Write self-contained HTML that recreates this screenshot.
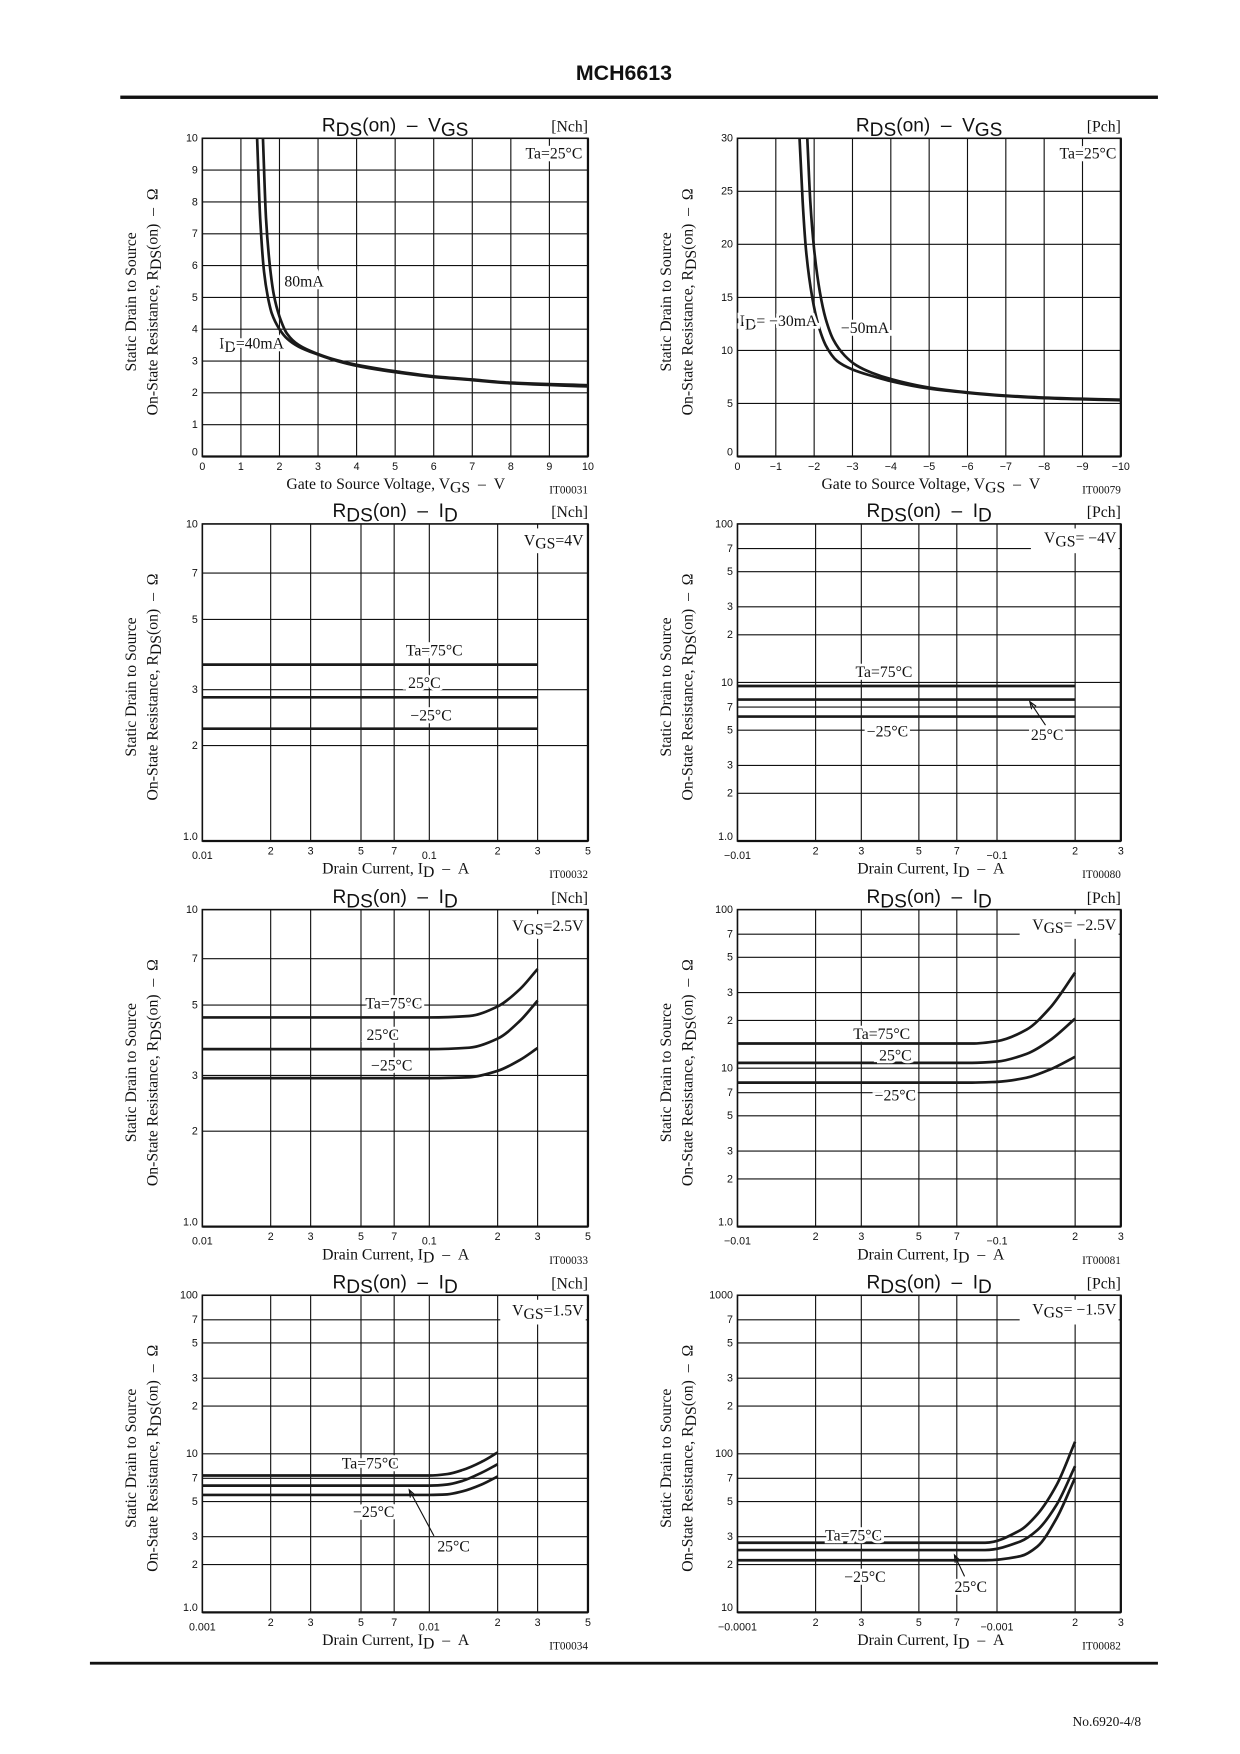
<!DOCTYPE html>
<html><head><meta charset="utf-8"><title>MCH6613 datasheet page</title>
<style>
html,body{margin:0;padding:0;background:#fff;}
svg{display:block;}
.t{font-family:"Liberation Sans",sans-serif;fill:#111;}
.s{font-family:"Liberation Serif",serif;fill:#111;}
</style></head>
<body>
<svg id="page" xmlns="http://www.w3.org/2000/svg" width="1240" height="1754" viewBox="0 0 1103 1560" preserveAspectRatio="none">
<text class="t" x="555" y="71" text-anchor="middle" font-size="19" font-weight="bold">MCH6613</text>
<rect x="107" y="85" width="923" height="3" fill="#111"/>
<rect x="80" y="1478" width="950" height="2.5" fill="#111"/>
<text class="s" x="1015" y="1535" text-anchor="end" font-size="12">No.6920-4/8</text>
<g id="charts"></g>
</svg>
<script>
// ---------- Chart data ----------
const c1_vgs40 = [1.42,1.5,1.6,1.7,1.8,2.0,2.2,2.5,3,3.5,4,5,6,7,8,10];
const c1_r40   = [10,7.5,5.8,5.0,4.5,4.0,3.7,3.45,3.2,3.0,2.85,2.65,2.5,2.4,2.3,2.2];
const c1_vgs80 = [1.57,1.65,1.75,1.85,2.0,2.2,2.5,3,3.5,4,5,6,7,8,10];
const c1_r80   = [10,7.5,6.0,5.1,4.4,3.85,3.5,3.22,3.02,2.88,2.68,2.52,2.42,2.32,2.24];
const c2_vgs30 = [1.62,1.7,1.8,1.95,2.1,2.3,2.6,3,3.5,4,5,6,7,8,10];
const c2_r30   = [30,24,19,15,12.5,10.5,9.0,8.2,7.6,7.1,6.4,6.0,5.7,5.5,5.3];
const c2_vgs50 = [1.82,1.9,2.0,2.15,2.3,2.5,2.8,3.1,3.5,4,5,6,7,8,10];
const c2_r50   = [30,24,19.5,15.5,13,11,9.5,8.6,7.9,7.3,6.5,6.05,5.75,5.55,5.35];
const c3_id = [0.01,0.3];
const c3_r75 = [3.6,3.6];
const c3_r25 = [2.84,2.84];
const c3_rm25 = [2.26,2.26];
const c4_id = [0.01,0.2];
const c4_r75 = [9.5,9.5];
const c4_r25 = [7.8,7.8];
const c4_rm25 = [6.1,6.1];
const c5_id = [0.01,0.1,0.15,0.2,0.25,0.3];
const c5_r75 = [4.57,4.57,4.62,4.95,5.6,6.5];
const c5_r25 = [3.63,3.63,3.67,3.92,4.45,5.16];
const c5_rm25 = [2.94,2.94,2.96,3.1,3.35,3.66];
const c6_id = [0.01,0.08,0.1,0.13,0.16,0.2];
const c6_r75 = [14.3,14.3,14.8,17.5,24,40];
const c6_r25 = [10.8,10.8,11.0,12.3,15,20.5];
const c6_rm25 = [8.1,8.1,8.2,8.7,9.8,11.8];
const c7_id = [0.001,0.01,0.012,0.014,0.017,0.02];
const c7_r75 = [7.3,7.3,7.45,7.9,8.9,10.2];
const c7_r25 = [6.3,6.3,6.4,6.75,7.6,8.6];
const c7_rm25 = [5.5,5.5,5.55,5.8,6.4,7.2];
const c8_id = [0.0001,0.0009,0.00123,0.00143,0.0017,0.002];
const c8_r75 = [27.5,27.5,33,41.5,64,119];
const c8_r25 = [24.7,24.7,28,33,48,83.6];
const c8_rm25 = [21.3,21.3,22.6,26,39.5,70.6];
const linX = [0,1,2,3,4,5,6,7,8,9,10];
const linXLabN = ["0","1","2","3","4","5","6","7","8","9","10"];
const linXLabP = ["0","−1","−2","−3","−4","−5","−6","−7","−8","−9","−10"];
const linY1 = [0,1,2,3,4,5,6,7,8,9,10];
const linY2 = [0,5,10,15,20,25,30];
const logXN = [0.01,0.02,0.03,0.05,0.07,0.1,0.2,0.3,0.5];
const logXNLab = ["0.01","2","3","5","7","0.1","2","3","5"];
const logXP = [0.01,0.02,0.03,0.05,0.07,0.1,0.2,0.3];
const logXPLab = ["−0.01","2","3","5","7","−0.1","2","3"];
const logXN4 = [0.001,0.002,0.003,0.005,0.007,0.01,0.02,0.03,0.05];
const logXN4Lab = ["0.001","2","3","5","7","0.01","2","3","5"];
const logXP4 = [0.0001,0.0002,0.0003,0.0005,0.0007,0.001,0.002,0.003];
const logXP4Lab = ["−0.0001","2","3","5","7","−0.001","2","3"];
const logY1 = [1,2,3,5,7,10];
const logY1Lab = ["1.0","2","3","5","7","10"];
const logY2 = [1,2,3,5,7,10,20,30,50,70,100];
const logY2Lab = ["1.0","2","3","5","7","10","2","3","5","7","100"];
const logY3 = [10,20,30,50,70,100,200,300,500,700,1000];
const logY3Lab = ["10","2","3","5","7","100","2","3","5","7","1000"];

const NS="http://www.w3.org/2000/svg";
const root=document.getElementById('charts');
function mk(tag,attrs,parent){const e=document.createElementNS(NS,tag);for(const k in attrs)e.setAttribute(k,attrs[k]);(parent||root).appendChild(e);return e;}
// monotone cubic (Fritsch–Carlson) path through pixel points
function smooth(P){
  const n=P.length;
  if(n<3)return 'M'+P.map(p=>p[0].toFixed(1)+','+p[1].toFixed(1)).join(' L');
  const dx=[],m=[];
  for(let i=0;i<n-1;i++){dx[i]=P[i+1][0]-P[i][0];m[i]=(P[i+1][1]-P[i][1])/dx[i];}
  const t=[m[0]];
  for(let i=1;i<n-1;i++){
    if(m[i-1]*m[i]<=0)t[i]=0;
    else{const w1=2*dx[i]+dx[i-1],w2=dx[i]+2*dx[i-1];t[i]=(w1+w2)/(w1/m[i-1]+w2/m[i]);}
  }
  t[n-1]=m[n-2];
  let d='M'+P[0][0].toFixed(1)+','+P[0][1].toFixed(1);
  for(let i=0;i<n-1;i++){
    const h=dx[i]/3;
    d+=` C${(P[i][0]+h).toFixed(1)},${(P[i][1]+t[i]*h).toFixed(1)} ${(P[i+1][0]-h).toFixed(1)},${(P[i+1][1]-t[i+1]*h).toFixed(1)} ${P[i+1][0].toFixed(1)},${P[i+1][1].toFixed(1)}`;
  }
  return d;
}
function chart(o){
  const g=mk('g',{});
  
  
  const L=o.L,R=o.R,T=o.T,B=o.B;
  const fx=o.xlog?(v=>L+(Math.log10(v)-Math.log10(o.x0))/(Math.log10(o.x1)-Math.log10(o.x0))*(R-L)):(v=>L+(v-o.x0)/(o.x1-o.x0)*(R-L));
  const fy=o.ylog?(v=>B-(Math.log10(v)-Math.log10(o.y0))/(Math.log10(o.y1)-Math.log10(o.y0))*(B-T)):(v=>B-(v-o.y0)/(o.y1-o.y0)*(B-T));
  const cl='clip-'+o.name;
  const cp=mk('clipPath',{id:cl},g);
  mk('rect',{x:L,y:T,width:R-L,height:B-T},cp);
  o.xt.forEach((v,i)=>{const x=fx(v);
    const gl=mk('line',{x1:x,x2:x,y1:T,y2:B,stroke:'#111','stroke-width':1},g);
    
    
    const low=o.xlog&&(/^[−0]/.test(o.xl[i])&&o.xl[i].length>1);
    const tl=mk('text',{class:'t',x:x,y:B+(low?16:12),'text-anchor':'middle','font-size':9.5},g);
    tl.textContent=o.xl[i];
    
    
  });
  o.yt.forEach((v,i)=>{const y=fy(v);
    const gl=mk('line',{x1:L,x2:R,y1:y,y2:y,stroke:'#111','stroke-width':1},g);
    
    
    const tl=mk('text',{class:'t',x:L-4,y:y+(i===0?-1:3),'text-anchor':'end','font-size':9.5},g);
    tl.textContent=o.yl[i];
    
    
  });
  const fr=mk('rect',{x:L,y:T,width:R-L,height:B-T,fill:'none',stroke:'#111','stroke-width':1.4},g);
  
  
  const ax=mk('line',{x1:L,x2:R,y1:B,y2:B,stroke:'#111','stroke-width':2},g);
  
  
  const ay=mk('line',{x1:R,x2:R,y1:T,y2:B,stroke:'#111','stroke-width':2},g);
  
  
  o.series.forEach(s=>{
    const P=s.x.map((v,i)=>[fx(v),fy(s.y[i])]);
    const p=mk('path',{d:smooth(P),fill:'none',stroke:'#1a1a1a','stroke-width':2.4,'stroke-linejoin':'round','clip-path':`url(#${cl})`},g);
    
    
  });
  const cx=(L+R)/2;
  const tt=mk('text',{class:'t',x:cx,y:T-6,'text-anchor':'middle','font-size':17},g);
  tt.innerHTML=o.title;
  
  
  const ch=mk('text',{class:'s',x:R,y:T-6,'text-anchor':'end','font-size':14},g);
  ch.textContent=o.ch;
  
  
  const xt=mk('text',{class:'s',x:o.xtx,y:B+29,'text-anchor':'middle','font-size':14},g);
  xt.innerHTML=o.xtitle;
  
  
  const code=mk('text',{class:'s',x:R,y:B+33,'text-anchor':'end','font-size':10},g);
  code.textContent=o.code;
  
  
  const cy=(T+B)/2+4;
  const yt=mk('text',{class:'s','font-size':14,'text-anchor':'middle',transform:`translate(${L-59},${cy}) rotate(-90)`},g);
  yt.innerHTML='Static Drain to Source';
  
  
  const yt2=mk('text',{class:'s','font-size':14,'text-anchor':'middle',transform:`translate(${L-40},${cy}) rotate(-90)`},g);
  yt2.innerHTML='On-State Resistance, R<tspan dy="3">DS</tspan><tspan dy="-3">(on)\u00a0\u00a0–\u00a0\u00a0Ω</tspan>';
  
  
  (o.notes||[]).forEach(n=>{
    if(n.box){const bw=n.box;const r=mk('rect',{x:R-bw-2,y:T+4,width:bw,height:22,fill:'#fff'},g);
      
      }
    if(n.arrow){const a=n.arrow;
      const ln=mk('line',{x1:a[0],y1:a[1],x2:a[2],y2:a[3],stroke:'#111','stroke-width':1},g);
      
      
      const ang=Math.atan2(a[3]-a[1],a[2]-a[0]);
      const hx=a[2],hy=a[3],h=7;
      const pts=`${hx-h*Math.cos(ang-0.35)},${hy-h*Math.sin(ang-0.35)} ${hx},${hy} ${hx-h*Math.cos(ang+0.35)},${hy-h*Math.sin(ang+0.35)}`;
      const ah=mk('polyline',{points:pts,fill:'none',stroke:'#111','stroke-width':1},g);
      
      
    }
    const t=mk('text',{class:'s',x:n.x,y:n.y,'font-size':14,'text-anchor':n.anchor||'start',stroke:'#fff','stroke-width':n.halo===0?0:5,'paint-order':'stroke'},g);
    t.innerHTML=n.t;
    
    
  });
}
const TV='R<tspan dy="4">DS</tspan><tspan dy="-4">(on)\u00a0\u00a0–\u00a0\u00a0V</tspan><tspan dy="4">GS</tspan>';
const TI='R<tspan dy="4">DS</tspan><tspan dy="-4">(on)\u00a0\u00a0–\u00a0\u00a0I</tspan><tspan dy="4">D</tspan>';
const XV='Gate to Source Voltage, V<tspan dy="3">GS</tspan><tspan dy="-3">\u00a0\u00a0–\u00a0\u00a0V</tspan>';
const XI='Drain Current, I<tspan dy="3">D</tspan><tspan dy="-3">\u00a0\u00a0–\u00a0\u00a0A</tspan>';
const LX=[180,523], RX=[656,997];
const rows=[[123,406],[466,748],[809,1091],[1152,1434]];
const vgs=s=>'V<tspan dy="3">GS</tspan><tspan dy="-3">'+s+'</tspan>';
function ser(x,a,b,c){return [{name:'curve-ta-75c',x:x,y:a},{name:'curve-ta-25c',x:x,y:b},{name:'curve-ta-minus25c',x:x,y:c}];}

chart({name:'chart-nch-rds-vgs',L:LX[0],R:LX[1],T:rows[0][0],B:rows[0][1],x0:0,x1:10,y0:0,y1:10,
  xt:linX,xl:linXLabN,yt:linY1,yl:linY1.map(String),title:TV,ch:'[Nch]',xtitle:XV,xtx:352,code:'IT00031',
  series:[{name:'curve-id-40ma',x:c1_vgs40,y:c1_r40},{name:'curve-id-80ma',x:c1_vgs80,y:c1_r80}],
  notes:[{t:'Ta=25°C',x:518,y:141,anchor:'end',name:'temp-label'},{t:'80mA',x:253,y:255,name:'label-80ma'},
    {t:'I<tspan dy="3">D</tspan><tspan dy="-3">=40mA</tspan>',x:195,y:310,name:'label-40ma'}]});
chart({name:'chart-pch-rds-vgs',L:RX[0],R:RX[1],T:rows[0][0],B:rows[0][1],x0:0,x1:10,y0:0,y1:30,
  xt:linX,xl:linXLabP,yt:linY2,yl:linY2.map(String),title:TV,ch:'[Pch]',xtitle:XV,xtx:828,code:'IT00079',
  series:[{name:'curve-id-30ma',x:c2_vgs30,y:c2_r30},{name:'curve-id-50ma',x:c2_vgs50,y:c2_r50}],
  notes:[{t:'Ta=25°C',x:993,y:141,anchor:'end',name:'temp-label'},
    {t:'I<tspan dy="3">D</tspan><tspan dy="-3">= −30mA</tspan>',x:658,y:290,name:'label-30ma'},{t:'−50mA',x:748,y:296,name:'label-50ma'}]});
chart({name:'chart-nch-rds-id-4v',L:LX[0],R:LX[1],T:rows[1][0],B:rows[1][1],xlog:1,ylog:1,x0:0.01,x1:0.5,y0:1,y1:10,
  xt:logXN,xl:logXNLab,yt:logY1,yl:logY1Lab,title:TI,ch:'[Nch]',xtitle:XI,xtx:352,code:'IT00032',
  series:ser(c3_id,c3_r75,c3_r25,c3_rm25),
  notes:[{box:64,t:vgs('=4V'),x:519,y:485,anchor:'end',halo:0,name:'vgs-condition'},{t:'Ta=75°C',x:361,y:583},{t:'25°C',x:363,y:612},{t:'−25°C',x:365,y:641}]});
chart({name:'chart-pch-rds-id-4v',L:RX[0],R:RX[1],T:rows[1][0],B:rows[1][1],xlog:1,ylog:1,x0:0.01,x1:0.3,y0:1,y1:100,
  xt:logXP,xl:logXPLab,yt:logY2,yl:logY2Lab,title:TI,ch:'[Pch]',xtitle:XI,xtx:828,code:'IT00080',
  series:ser(c4_id,c4_r75,c4_r25,c4_rm25),
  notes:[{box:78,t:vgs('= −4V'),x:993,y:483,anchor:'end',halo:0,name:'vgs-condition'},{t:'Ta=75°C',x:761,y:602},{t:'−25°C',x:771,y:655},
    {t:'25°C',x:917,y:658,arrow:[930,645,916,624]}]});
chart({name:'chart-nch-rds-id-2v5',L:LX[0],R:LX[1],T:rows[2][0],B:rows[2][1],xlog:1,ylog:1,x0:0.01,x1:0.5,y0:1,y1:10,
  xt:logXN,xl:logXNLab,yt:logY1,yl:logY1Lab,title:TI,ch:'[Nch]',xtitle:XI,xtx:352,code:'IT00033',
  series:ser(c5_id,c5_r75,c5_r25,c5_rm25),
  notes:[{box:76,t:vgs('=2.5V'),x:519,y:828,anchor:'end',halo:0,name:'vgs-condition'},{t:'Ta=75°C',x:325,y:897},{t:'25°C',x:326,y:925},{t:'−25°C',x:330,y:952}]});
chart({name:'chart-pch-rds-id-2v5',L:RX[0],R:RX[1],T:rows[2][0],B:rows[2][1],xlog:1,ylog:1,x0:0.01,x1:0.3,y0:1,y1:100,
  xt:logXP,xl:logXPLab,yt:logY2,yl:logY2Lab,title:TI,ch:'[Pch]',xtitle:XI,xtx:828,code:'IT00081',
  series:ser(c6_id,c6_r75,c6_r25,c6_rm25),
  notes:[{box:88,t:vgs('= −2.5V'),x:993,y:827,anchor:'end',halo:0,name:'vgs-condition'},{t:'Ta=75°C',x:759,y:924},{t:'25°C',x:782,y:943},{t:'−25°C',x:778,y:979}]});
chart({name:'chart-nch-rds-id-1v5',L:LX[0],R:LX[1],T:rows[3][0],B:rows[3][1],xlog:1,ylog:1,x0:0.001,x1:0.05,y0:1,y1:100,
  xt:logXN4,xl:logXN4Lab,yt:logY2,yl:logY2Lab,title:TI,ch:'[Nch]',xtitle:XI,xtx:352,code:'IT00034',
  series:ser(c7_id,c7_r75,c7_r25,c7_rm25),
  notes:[{box:76,t:vgs('=1.5V'),x:519,y:1170,anchor:'end',halo:0,name:'vgs-condition'},{t:'Ta=75°C',x:304,y:1306},{t:'−25°C',x:314,y:1349},
    {t:'25°C',x:389,y:1380,arrow:[386,1366,364,1325]}]});
chart({name:'chart-pch-rds-id-1v5',L:RX[0],R:RX[1],T:rows[3][0],B:rows[3][1],xlog:1,ylog:1,x0:0.0001,x1:0.003,y0:10,y1:1000,
  xt:logXP4,xl:logXP4Lab,yt:logY3,yl:logY3Lab,title:TI,ch:'[Pch]',xtitle:XI,xtx:828,code:'IT00082',
  series:ser(c8_id,c8_r75,c8_r25,c8_rm25),
  notes:[{box:88,t:vgs('= −1.5V'),x:993,y:1169,anchor:'end',halo:0,name:'vgs-condition'},{t:'Ta=75°C',x:734,y:1370},{t:'−25°C',x:751,y:1407},
    {t:'25°C',x:849,y:1416,arrow:[858,1402,849,1383]}]});
</script>
</body></html>
